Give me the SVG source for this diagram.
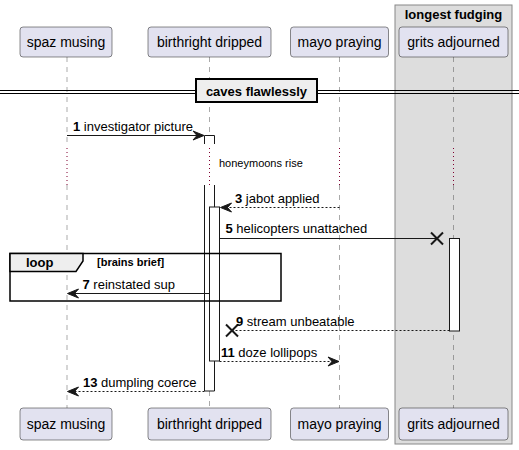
<svg xmlns="http://www.w3.org/2000/svg" width="519" height="450" viewBox="0 0 519 450">
<style>
text{font-family:"Liberation Sans",Arial,sans-serif;fill:#000}
.p rect{fill:#E2E2F0;stroke:#181818;stroke-width:0.5}
.p text{font-size:14px;text-anchor:middle}
.life{stroke:#555;stroke-width:0.5;stroke-dasharray:5,5;fill:none}
.delay{stroke:#800030;stroke-width:1;stroke-dasharray:1,3;fill:none}
.msg{font-size:13px}
.msg tspan.n{font-weight:bold}
.solid{stroke:#181818;stroke-width:1;fill:none}
.dash{stroke:#181818;stroke-width:1;stroke-dasharray:2,2;fill:none}
.head{fill:#181818;stroke:#181818;stroke-width:1}
.act{fill:#fff;stroke:#181818;stroke-width:1}
.x{stroke:#181818;stroke-width:2}
</style>
<g id="group-longest-fudging">
<rect x="395" y="5" width="117" height="439" fill="#DDDDDD" stroke="#888" stroke-width="1"/>
<text x="453.5" y="19" font-size="13" font-weight="bold" text-anchor="middle">longest fudging</text>
</g>
<g id="lifelines">
<path class="life" d="M67,57V147M67,185V408"/>
<path class="life" d="M209.5,57V135M209.5,391V408"/>
<path class="life" d="M339.5,57V147M339.5,185V408"/>
<path class="life" d="M453.5,57V147M453.5,185V408"/>
<path class="delay" d="M67,148V185M209.5,148V185M339.5,148V185M453.5,148V185"/>
</g>
<g id="divider-caves-flawlessly">
<path d="M0,90.5H519M0,93.5H519" stroke="#000" stroke-width="1"/>
<rect x="196" y="79" width="121" height="23" fill="#EEEEEE" stroke="#000" stroke-width="2"/>
<text x="256.5" y="95.5" font-size="13" font-weight="bold" text-anchor="middle">caves flawlessly</text>
</g>
<g id="p-spaz-musing" class="p">
<rect x="20" y="27" width="92" height="30" rx="3"/>
<text x="66" y="47">spaz musing</text>
<rect x="20" y="408" width="92" height="32" rx="3"/>
<text x="66" y="429">spaz musing</text>
</g>
<g id="p-birthright-dripped" class="p">
<rect x="148" y="27" width="123" height="30" rx="3"/>
<text x="209.5" y="47">birthright dripped</text>
<rect x="148" y="408" width="123" height="32" rx="3"/>
<text x="209.5" y="429">birthright dripped</text>
</g>
<g id="p-mayo-praying" class="p">
<rect x="290.5" y="27" width="98" height="30" rx="3"/>
<text x="339.5" y="47">mayo praying</text>
<rect x="290.5" y="408" width="98" height="32" rx="3"/>
<text x="339.5" y="429">mayo praying</text>
</g>
<g id="p-grits-adjourned" class="p">
<rect x="399" y="27" width="109" height="30" rx="3"/>
<text x="453.5" y="47">grits adjourned</text>
<rect x="399" y="408" width="109" height="32" rx="3"/>
<text x="453.5" y="429">grits adjourned</text>
</g>
<g id="activations">
<path class="act" d="M204.5,144V135.5H214.5V144" fill="none"/>
<rect x="204.5" y="185" width="10" height="206" fill="#fff" stroke="none"/>
<path d="M204.5,185V391H214.5V185" fill="none" stroke="#181818" stroke-width="1"/>
<rect class="act" x="209.5" y="207" width="10" height="154"/>
<rect class="act" x="449.5" y="238.5" width="10" height="92.5"/>
</g>
<g id="loop-brains-brief">
<rect x="10" y="253.5" width="271" height="47.5" fill="none" stroke="#000" stroke-width="1.5"/>
<path d="M10,253.5H83V261L76,271.5H10Z" fill="#EEEEEE" stroke="#000" stroke-width="1.5"/>
<text x="26" y="267" font-size="13" font-weight="bold">loop</text>
<text x="97" y="266" font-size="11" font-weight="bold">[brains brief]</text>
</g>
<g id="connectors">
<path class="solid" d="M67,135.5H203"/>
<polygon class="head" points="204,135.5 193,131 197,135.5 193,140"/>
<text class="msg" x="73" y="130.5"><tspan class="n">1</tspan> investigator picture</text>
<text x="219" y="167" font-size="11">honeymoons rise</text>
<path class="dash" d="M339.5,207.5H222"/>
<polygon class="head" points="220.5,207.5 231.5,203 227.5,207.5 231.5,212"/>
<text class="msg" x="235" y="202.5"><tspan class="n">3</tspan> jabot applied</text>
<path class="solid" d="M219.5,238.5H437"/>
<path class="x" d="M431,232.5L443,244.5M431,244.5L443,232.5"/>
<text class="msg" x="225.5" y="233"><tspan class="n">5</tspan> helicopters unattached</text>
<path class="solid" d="M209.5,293.5H69"/>
<polygon class="head" points="67.5,293.5 78.5,289 74.5,293.5 78.5,298"/>
<text class="msg" x="82.5" y="288.5"><tspan class="n">7</tspan> reinstated sup</text>
<path class="dash" d="M449.5,330.5H232"/>
<path class="x" d="M226,324.5L238,336.5M226,336.5L238,324.5"/>
<text class="msg" x="236" y="326"><tspan class="n">9</tspan> stream unbeatable</text>
<path class="dash" d="M219.5,361.5H337"/>
<polygon class="head" points="339,361.5 328,357 332,361.5 328,366"/>
<text class="msg" x="221" y="356.5"><tspan class="n">11</tspan> doze lollipops</text>
<path class="dash" d="M204.5,391.5H69"/>
<polygon class="head" points="67.5,391.5 78.5,387 74.5,391.5 78.5,396"/>
<text class="msg" x="83" y="386.5"><tspan class="n">13</tspan> dumpling coerce</text>
</g>
</svg>
